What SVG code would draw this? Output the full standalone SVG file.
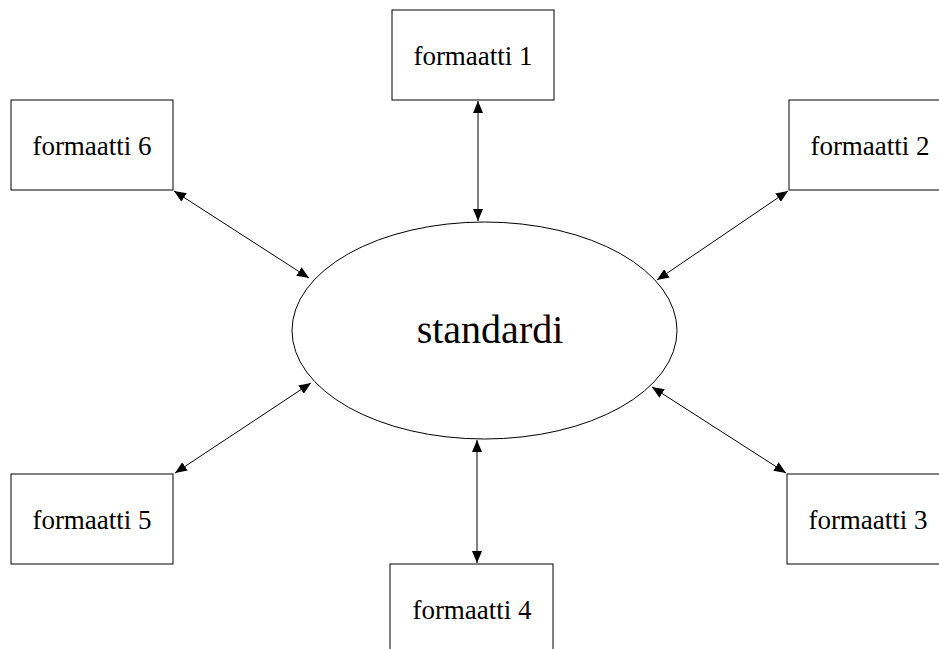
<svg xmlns="http://www.w3.org/2000/svg" width="939" height="649" viewBox="0 0 939 649">
<style>
.box{fill:#fff;stroke:#000;stroke-width:1}
.lbl{font-family:"Liberation Serif","Times New Roman",serif;font-size:27px;fill:#000;text-anchor:middle}
.big{font-family:"Liberation Serif","Times New Roman",serif;font-size:40px;fill:#000;text-anchor:middle}
.conn{stroke:#000;stroke-width:1;fill:none;marker-start:url(#ah);marker-end:url(#ah)}
</style>
<defs>
<marker id="ah" viewBox="0 0 12 10" refX="12" refY="5" markerWidth="12" markerHeight="10" markerUnits="userSpaceOnUse" orient="auto-start-reverse">
<path d="M0,0 L12,5 L0,10 Z" fill="#000"/>
</marker>
</defs>
<rect width="939" height="649" fill="#fff"/>
<g id="connectors">
<line class="conn" x1="478" y1="101" x2="478" y2="221"/>
<line class="conn" x1="788" y1="191" x2="657" y2="280"/>
<line class="conn" x1="786" y1="473" x2="652" y2="387"/>
<line class="conn" x1="477" y1="440" x2="477" y2="563"/>
<line class="conn" x1="175" y1="473" x2="311" y2="383"/>
<line class="conn" x1="174" y1="191" x2="309" y2="278"/>
</g>
<g id="standardi">
<ellipse class="box" cx="484.5" cy="330.5" rx="192.5" ry="108.5"/>
<text class="big" x="490" y="343">standardi</text>
</g>
<g id="formaatti1">
<rect class="box" x="392" y="10" width="162" height="90"/>
<text class="lbl" x="473" y="65">formaatti 1</text>
</g>
<g id="formaatti2">
<rect class="box" x="789" y="100" width="162" height="90"/>
<text class="lbl" x="870" y="155">formaatti 2</text>
</g>
<g id="formaatti3">
<rect class="box" x="787" y="474" width="162" height="90"/>
<text class="lbl" x="868" y="529">formaatti 3</text>
</g>
<g id="formaatti4">
<rect class="box" x="390" y="564" width="163" height="90"/>
<text class="lbl" x="472" y="619">formaatti 4</text>
</g>
<g id="formaatti5">
<rect class="box" x="11" y="474" width="162" height="90"/>
<text class="lbl" x="92" y="529">formaatti 5</text>
</g>
<g id="formaatti6">
<rect class="box" x="11" y="100" width="162" height="90"/>
<text class="lbl" x="92" y="155">formaatti 6</text>
</g>
</svg>
